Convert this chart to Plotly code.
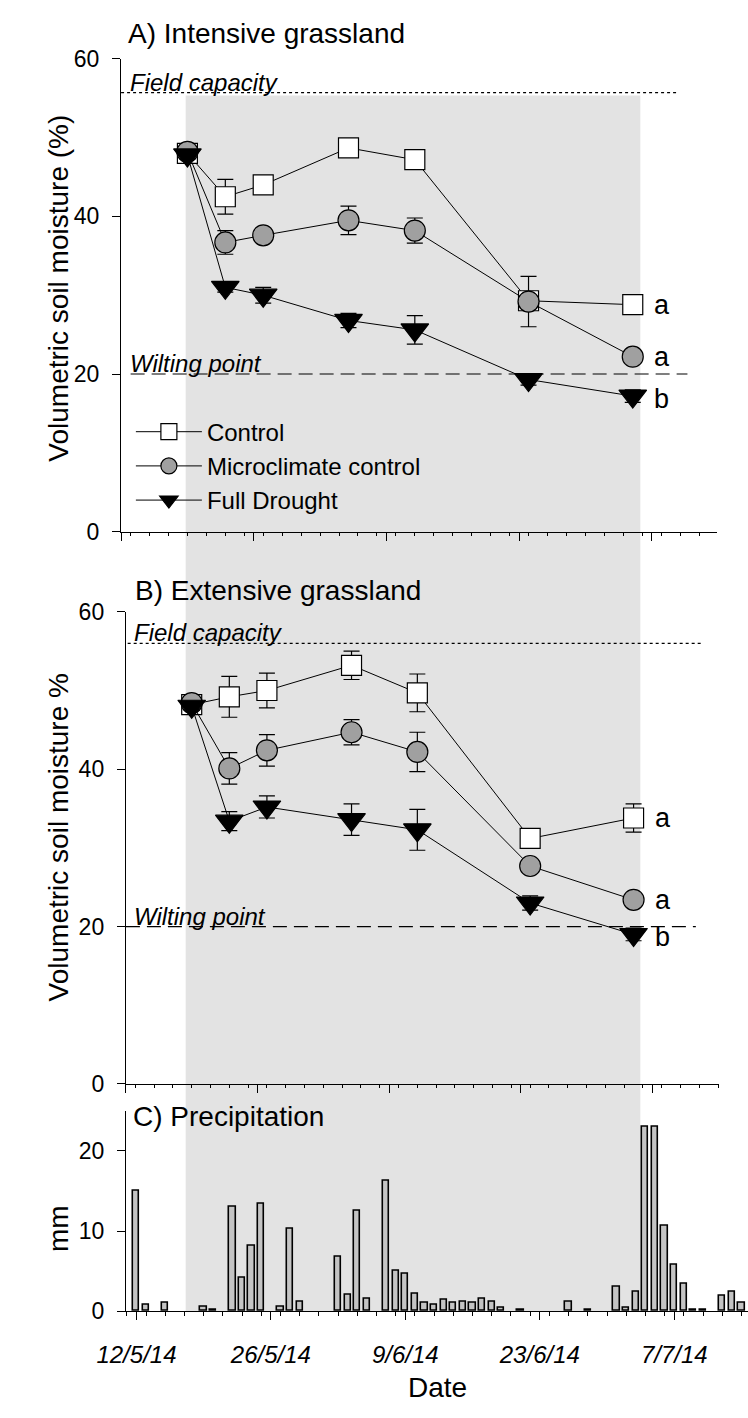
import plotly.graph_objects as go

W, H = 748, 1418
FONT = "Liberation Sans, Arial, sans-serif"

# ---------------- data ----------------
sample_dates = ["2014-05-17", "2014-05-21", "2014-05-25", "2014-06-03",
                "2014-06-10", "2014-06-22", "2014-07-03"]

A_control = [48.0, 42.5, 44.0, 48.7, 47.2, 29.3, 28.8]
A_control_se = [0.6, 2.2, 0.9, 0.7, 0.6, 1.0, 0.5]
A_micro = [48.2, 36.7, 37.6, 39.5, 38.2, 29.2, 22.2]
A_micro_se = [0.5, 1.5, 0.9, 1.8, 1.6, 3.2, 0.5]
A_drought = [47.8, 31.0, 30.0, 26.8, 25.6, 19.3, 17.2]
A_drought_se = [0.5, 0.6, 1.0, 0.9, 1.8, 0.7, 0.8]

B_control = [48.2, 49.2, 50.0, 53.2, 49.7, 31.2, 33.8]
B_control_se = [0.8, 2.6, 2.2, 1.8, 2.4, 1.2, 1.8]
B_micro = [48.4, 40.1, 42.4, 44.7, 42.2, 27.7, 23.4]
B_micro_se = [0.5, 2.0, 2.0, 1.6, 2.5, 0.7, 0.5]
B_drought = [48.0, 33.4, 35.2, 33.6, 32.3, 23.0, 19.0]
B_drought_se = [0.5, 1.2, 1.4, 2.0, 2.6, 0.9, 0.8]

A_letters = ["a", "a", "b"]
B_letters = ["a", "a", "b"]

field_capacity = {"A": 55.7, "B": 56.0}
wilting_point = 20

precip_dates = ["2014-05-12", "2014-05-13", "2014-05-15", "2014-05-19", "2014-05-20",
                "2014-05-22", "2014-05-23", "2014-05-24", "2014-05-25", "2014-05-27",
                "2014-05-28", "2014-05-29", "2014-06-02", "2014-06-03", "2014-06-04",
                "2014-06-05", "2014-06-07", "2014-06-08", "2014-06-09", "2014-06-10",
                "2014-06-11", "2014-06-12", "2014-06-13", "2014-06-14", "2014-06-15",
                "2014-06-16", "2014-06-17", "2014-06-18", "2014-06-19", "2014-06-21",
                "2014-06-26", "2014-06-28", "2014-07-01", "2014-07-02", "2014-07-03",
                "2014-07-04", "2014-07-05", "2014-07-06", "2014-07-07", "2014-07-08",
                "2014-07-09", "2014-07-10", "2014-07-12", "2014-07-13", "2014-07-14"]
precip_mm = [15.0, 0.8, 1.0, 0.6, 0.2,
             13.0, 4.2, 8.1, 13.4, 0.6,
             10.3, 1.2, 6.8, 2.0, 12.5,
             1.6, 16.3, 5.0, 4.6, 2.2,
             1.0, 0.8, 1.4, 1.0, 1.2,
             1.0, 1.6, 1.2, 0.4, 0.2,
             1.2, 0.2, 3.0, 0.4, 2.4,
             23.0, 23.0, 10.7, 5.8, 3.4,
             0.2, 0.2, 1.9, 2.4, 1.0]

series_names = ["Control", "Microclimate control", "Full Drought"]

# ---------------- layout helpers ----------------
def px_x(p):
    return p / W

def px_y(p):
    return 1 - p / H

DAY = 86400000

fig = go.Figure()

styles = [
    dict(symbol="square", size=20, color="white"),
    dict(symbol="circle", size=21, color="#a0a0a0"),
    dict(symbol="triangle-down", size=24, color="black"),
]

panels = [
    ("x", "y", [A_control, A_micro, A_drought], [A_control_se, A_micro_se, A_drought_se], True),
    ("x2", "y2", [B_control, B_micro, B_drought], [B_control_se, B_micro_se, B_drought_se], False),
]

for xa, ya, vals, ses, show in panels:
    for name, v, se, st in zip(series_names, vals, ses, styles):
        fig.add_trace(go.Scatter(
            x=sample_dates, y=v, name=name, mode="lines+markers",
            xaxis=xa, yaxis=ya, showlegend=show,
            line=dict(color="black", width=1),
            marker=dict(symbol=st["symbol"], size=st["size"], color=st["color"],
                        line=dict(color="black", width=1.2)),
            error_y=dict(type="data", array=se, visible=True, color="black",
                         thickness=1.2, width=8),
        ))

fig.add_trace(go.Bar(
    x=precip_dates, y=precip_mm, xaxis="x3", yaxis="y3", showlegend=False,
    width=0.65 * DAY,
    marker=dict(color="#c4c4c4", line=dict(color="black", width=1.6)),
))

axis_common = dict(showline=True, linecolor="black", linewidth=1.2, ticks="outside",
                   tickcolor="black", tickwidth=1.2, showgrid=False, zeroline=False,
                   ticklabelstandoff=8,
                   tickfont=dict(family=FONT, size=23, color="black"))

xab_common = dict(axis_common, type="date", tick0="2014-05-10", dtick=14 * DAY,
                  ticklen=8, showticklabels=False,
                  minor=dict(dtick=2 * DAY, ticks="outside", ticklen=3,
                             tickcolor="black", tickwidth=1))

fig.update_layout(
    width=W, height=H,
    margin=dict(l=0, r=0, t=0, b=0),
    paper_bgcolor="white", plot_bgcolor="rgba(0,0,0,0)",
    font=dict(family=FONT, color="black"),
    bargap=0,
    xaxis=dict(xab_common, domain=[px_x(95.8), px_x(716)], anchor="y",
               range=["2014-05-10", "2014-07-11T22:00"]),
    yaxis=dict(axis_common, domain=[px_y(528.3), px_y(46.7)], anchor="x",
               range=[0, 60], tickvals=[0, 20, 40, 60], ticklen=8),
    xaxis2=dict(xab_common, domain=[px_x(100.8), px_x(717.8)], anchor="y2",
                range=["2014-05-10", "2014-07-12T02:00"]),
    yaxis2=dict(axis_common, domain=[px_y(1091), px_y(610)], anchor="x2",
                range=[0, 60], tickvals=[0, 20, 40, 60], ticklen=8),
    xaxis3=dict(axis_common, type="date", domain=[px_x(101), 1.0], anchor="y3",
                range=["2014-05-10T22:05", "2014-07-14T16:20"],
                tick0="2014-05-12", dtick=14 * DAY, tickformat="%-d/%-m/%y",
                ticklen=8, ticklabelstandoff=14,
                tickfont=dict(family=FONT, size=24, color="black", style="italic"),
                minor=dict(dtick=2 * DAY, ticks="outside", ticklen=4,
                           tickcolor="black", tickwidth=1)),
    yaxis3=dict(axis_common, domain=[px_y(1322.4), px_y(1118.3)], anchor="x3",
                range=[0, 25], tickvals=[0, 10, 20], ticklen=8),
    legend=dict(x=px_x(106), y=px_y(404), xanchor="left", yanchor="top",
                bgcolor="rgba(0,0,0,0)", font=dict(family=FONT, size=24),
                itemwidth=66),
    showlegend=True,
)

# grey drought period background spanning all panels
fig.add_shape(type="rect", xref="paper", yref="paper",
              x0=px_x(163), x1=px_x(636), y0=px_y(1322.4), y1=px_y(84),
              fillcolor="#e3e3e3", line=dict(width=0), layer="below")

# field capacity & wilting point lines
line_ext = {"A": dict(fc=(0.0, 0.934), wp=(0.016, 0.95)),
            "B": dict(fc=(0.003, 0.97), wp=(0.0, 0.961))}
for xa, ya, key in [("x", "y", "A"), ("x2", "y2", "B")]:
    e = line_ext[key]
    fig.add_shape(type="line", xref=f"{xa} domain", yref=ya, x0=e["fc"][0], x1=e["fc"][1],
                  y0=field_capacity[key], y1=field_capacity[key],
                  line=dict(color="black", width=1.3, dash="dot"))
    fig.add_shape(type="line", xref=f"{xa} domain", yref=ya, x0=e["wp"][0], x1=e["wp"][1],
                  y0=wilting_point, y1=wilting_point,
                  line=dict(color="black", width=1.2, dash="14px,7px"))
    fig.add_annotation(xref=f"{xa} domain", yref=ya, x=0.011, y=field_capacity[key],
                       text="<i>Field capacity</i>", showarrow=False,
                       xanchor="left", yanchor="bottom", yshift=-5,
                       font=dict(family=FONT, size=24))
    fig.add_annotation(xref=f"{xa} domain", yref=ya, x=0.011, y=wilting_point,
                       text="<i>Wilting point</i>", showarrow=False,
                       xanchor="left", yanchor="bottom", yshift=-5,
                       font=dict(family=FONT, size=24))

# significance letters
for xa, ya, vals, letters in [("x", "y", [A_control, A_micro, A_drought], A_letters),
                              ("x2", "y2", [B_control, B_micro, B_drought], B_letters)]:
    for v, l, dy in zip(vals, letters, [0, 0, -3]):
        fig.add_annotation(xref=xa, yref=ya, x=sample_dates[-1], y=v[-1], text=l,
                           showarrow=False, xanchor="left", xshift=19, yshift=dy,
                           font=dict(family=FONT, size=27))

# panel titles
for txt, x, y in [("A) Intensive grassland", 101, 21),
                  ("B) Extensive grassland", 108, 588),
                  ("C) Precipitation", 106, 1124)]:
    fig.add_annotation(xref="paper", yref="paper", x=px_x(x), y=px_y(y), text=txt,
                       showarrow=False, xanchor="left", yanchor="middle",
                       font=dict(family=FONT, size=28))

# axis titles
for txt, y in [("Volumetric soil moisture (%)", 280),
               ("Volumetric soil moisture %", 840),
               ("mm", 1238)]:
    fig.add_annotation(xref="paper", yref="paper", x=px_x(31), y=px_y(y), text=txt,
                       showarrow=False, textangle=-90, xanchor="center", yanchor="middle",
                       font=dict(family=FONT, size=28))
fig.add_annotation(xref="paper", yref="paper", x=px_x(425), y=px_y(1400), text="Date",
                   showarrow=False, xanchor="center", yanchor="middle",
                   font=dict(family=FONT, size=28))

fig.write_html("out.html")
